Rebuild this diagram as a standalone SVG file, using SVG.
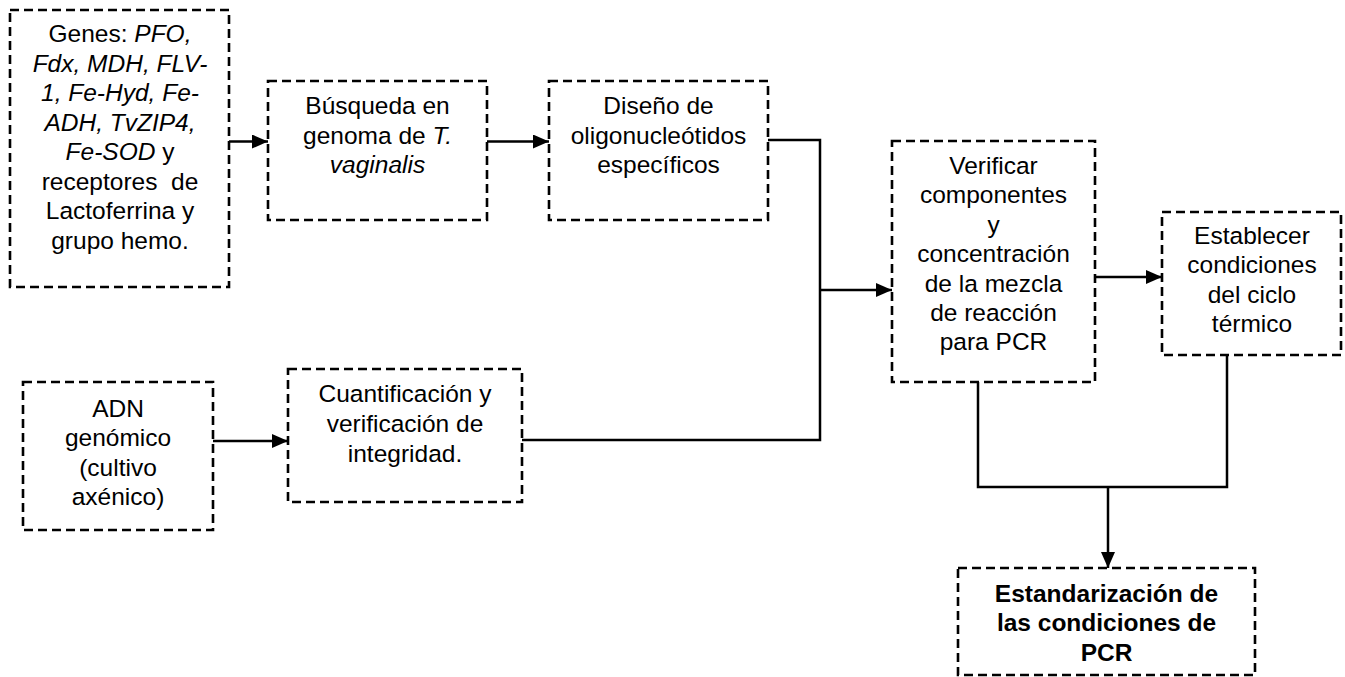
<svg xmlns="http://www.w3.org/2000/svg" width="1345" height="677" viewBox="0 0 1345 677">
  <defs>
    <style>
      .box { fill: #fff; stroke: #000; stroke-width: 2.6; stroke-dasharray: 9 5; }
      .t { font-family: "Liberation Sans", Arial, sans-serif; font-size: 24.5px; fill: #000; text-anchor: middle; }
      .i { font-style: italic; }
      .b { font-weight: bold; }
      .wire { fill: none; stroke: #000; stroke-width: 2.5; }
      .arrow { marker-end: url(#head); }
    </style>
    <marker id="head" markerUnits="userSpaceOnUse" markerWidth="16" markerHeight="14" refX="16" refY="7" orient="auto">
      <path d="M0,0 L16,7 L0,14 z" fill="#000"/>
    </marker>
  </defs>
  <rect width="1345" height="677" fill="#fff"/>

  <!-- connectors -->
  <g id="connectors">
    <path class="wire arrow" d="M229,141.5 H268"/>
    <path class="wire arrow" d="M487,141.5 H549"/>
    <path class="wire" d="M768,140 H820 V440 H522"/>
    <path class="wire arrow" d="M820,290 H892"/>
    <path class="wire arrow" d="M213,441 H288"/>
    <path class="wire arrow" d="M1095,277 H1162"/>
    <path class="wire" d="M978,382 V487 H1227 V355"/>
    <path class="wire arrow" d="M1108,487 V568"/>
  </g>

  <!-- gene list -->
  <g id="genes">
    <rect class="box" x="10" y="10" width="219" height="277"/>
    <text class="t" x="120" y="42">Genes: <tspan class="i">PFO,</tspan></text>
    <text class="t i" x="120" y="71.5">Fdx, MDH, FLV-</text>
    <text class="t i" x="120" y="101">1, Fe-Hyd, Fe-</text>
    <text class="t i" x="120" y="130.5">ADH, TvZIP4,</text>
    <text class="t" x="120" y="160"><tspan class="i">Fe-SOD</tspan> y</text>
    <text class="t" x="120" y="189.5">receptores&#160; de</text>
    <text class="t" x="120" y="219">Lactoferrina y</text>
    <text class="t" x="120" y="248.5">grupo hemo.</text>
  </g>

  <!-- genome search -->
  <g id="busqueda">
    <rect class="box" x="268" y="81" width="219" height="139"/>
    <text class="t" x="377.5" y="114">Búsqueda en</text>
    <text class="t" x="377.5" y="143.5">genoma de <tspan class="i">T.</tspan></text>
    <text class="t i" x="377.5" y="173">vaginalis</text>
  </g>

  <!-- primer design -->
  <g id="diseno">
    <rect class="box" x="549" y="81" width="219" height="139"/>
    <text class="t" x="658.5" y="114">Diseño de</text>
    <text class="t" x="658.5" y="143.5">oligonucleótidos</text>
    <text class="t" x="658.5" y="173">específicos</text>
  </g>

  <!-- genomic DNA -->
  <g id="adn">
    <rect class="box" x="23" y="382" width="190" height="148"/>
    <text class="t" x="118" y="416.5">ADN</text>
    <text class="t" x="118" y="446">genómico</text>
    <text class="t" x="118" y="475.5">(cultivo</text>
    <text class="t" x="118" y="505">axénico)</text>
  </g>

  <!-- quantification -->
  <g id="cuantificacion">
    <rect class="box" x="288" y="369" width="234" height="133"/>
    <text class="t" x="405" y="401.5">Cuantificación y</text>
    <text class="t" x="405" y="431.5">verificación de</text>
    <text class="t" x="405" y="461.5">integridad.</text>
  </g>

  <!-- PCR mix -->
  <g id="verificar">
    <rect class="box" x="892" y="141" width="203" height="241"/>
    <text class="t" x="993.5" y="174">Verificar</text>
    <text class="t" x="993.5" y="203.4">componentes</text>
    <text class="t" x="993.5" y="232.8">y</text>
    <text class="t" x="993.5" y="262.2">concentración</text>
    <text class="t" x="993.5" y="291.6">de la mezcla</text>
    <text class="t" x="993.5" y="321">de reacción</text>
    <text class="t" x="993.5" y="350.4">para PCR</text>
  </g>

  <!-- thermal cycle -->
  <g id="establecer">
    <rect class="box" x="1162" y="212" width="179" height="143"/>
    <text class="t" x="1252" y="244">Establecer</text>
    <text class="t" x="1252" y="273.3">condiciones</text>
    <text class="t" x="1252" y="302.6">del ciclo</text>
    <text class="t" x="1252" y="332">térmico</text>
  </g>

  <!-- standardization -->
  <g id="estandarizacion">
    <rect class="box" x="958" y="568" width="297" height="107"/>
    <text class="t b" x="1106.5" y="601.5">Estandarización de</text>
    <text class="t b" x="1106.5" y="631">las condiciones de</text>
    <text class="t b" x="1106.5" y="660.5">PCR</text>
  </g>
</svg>
